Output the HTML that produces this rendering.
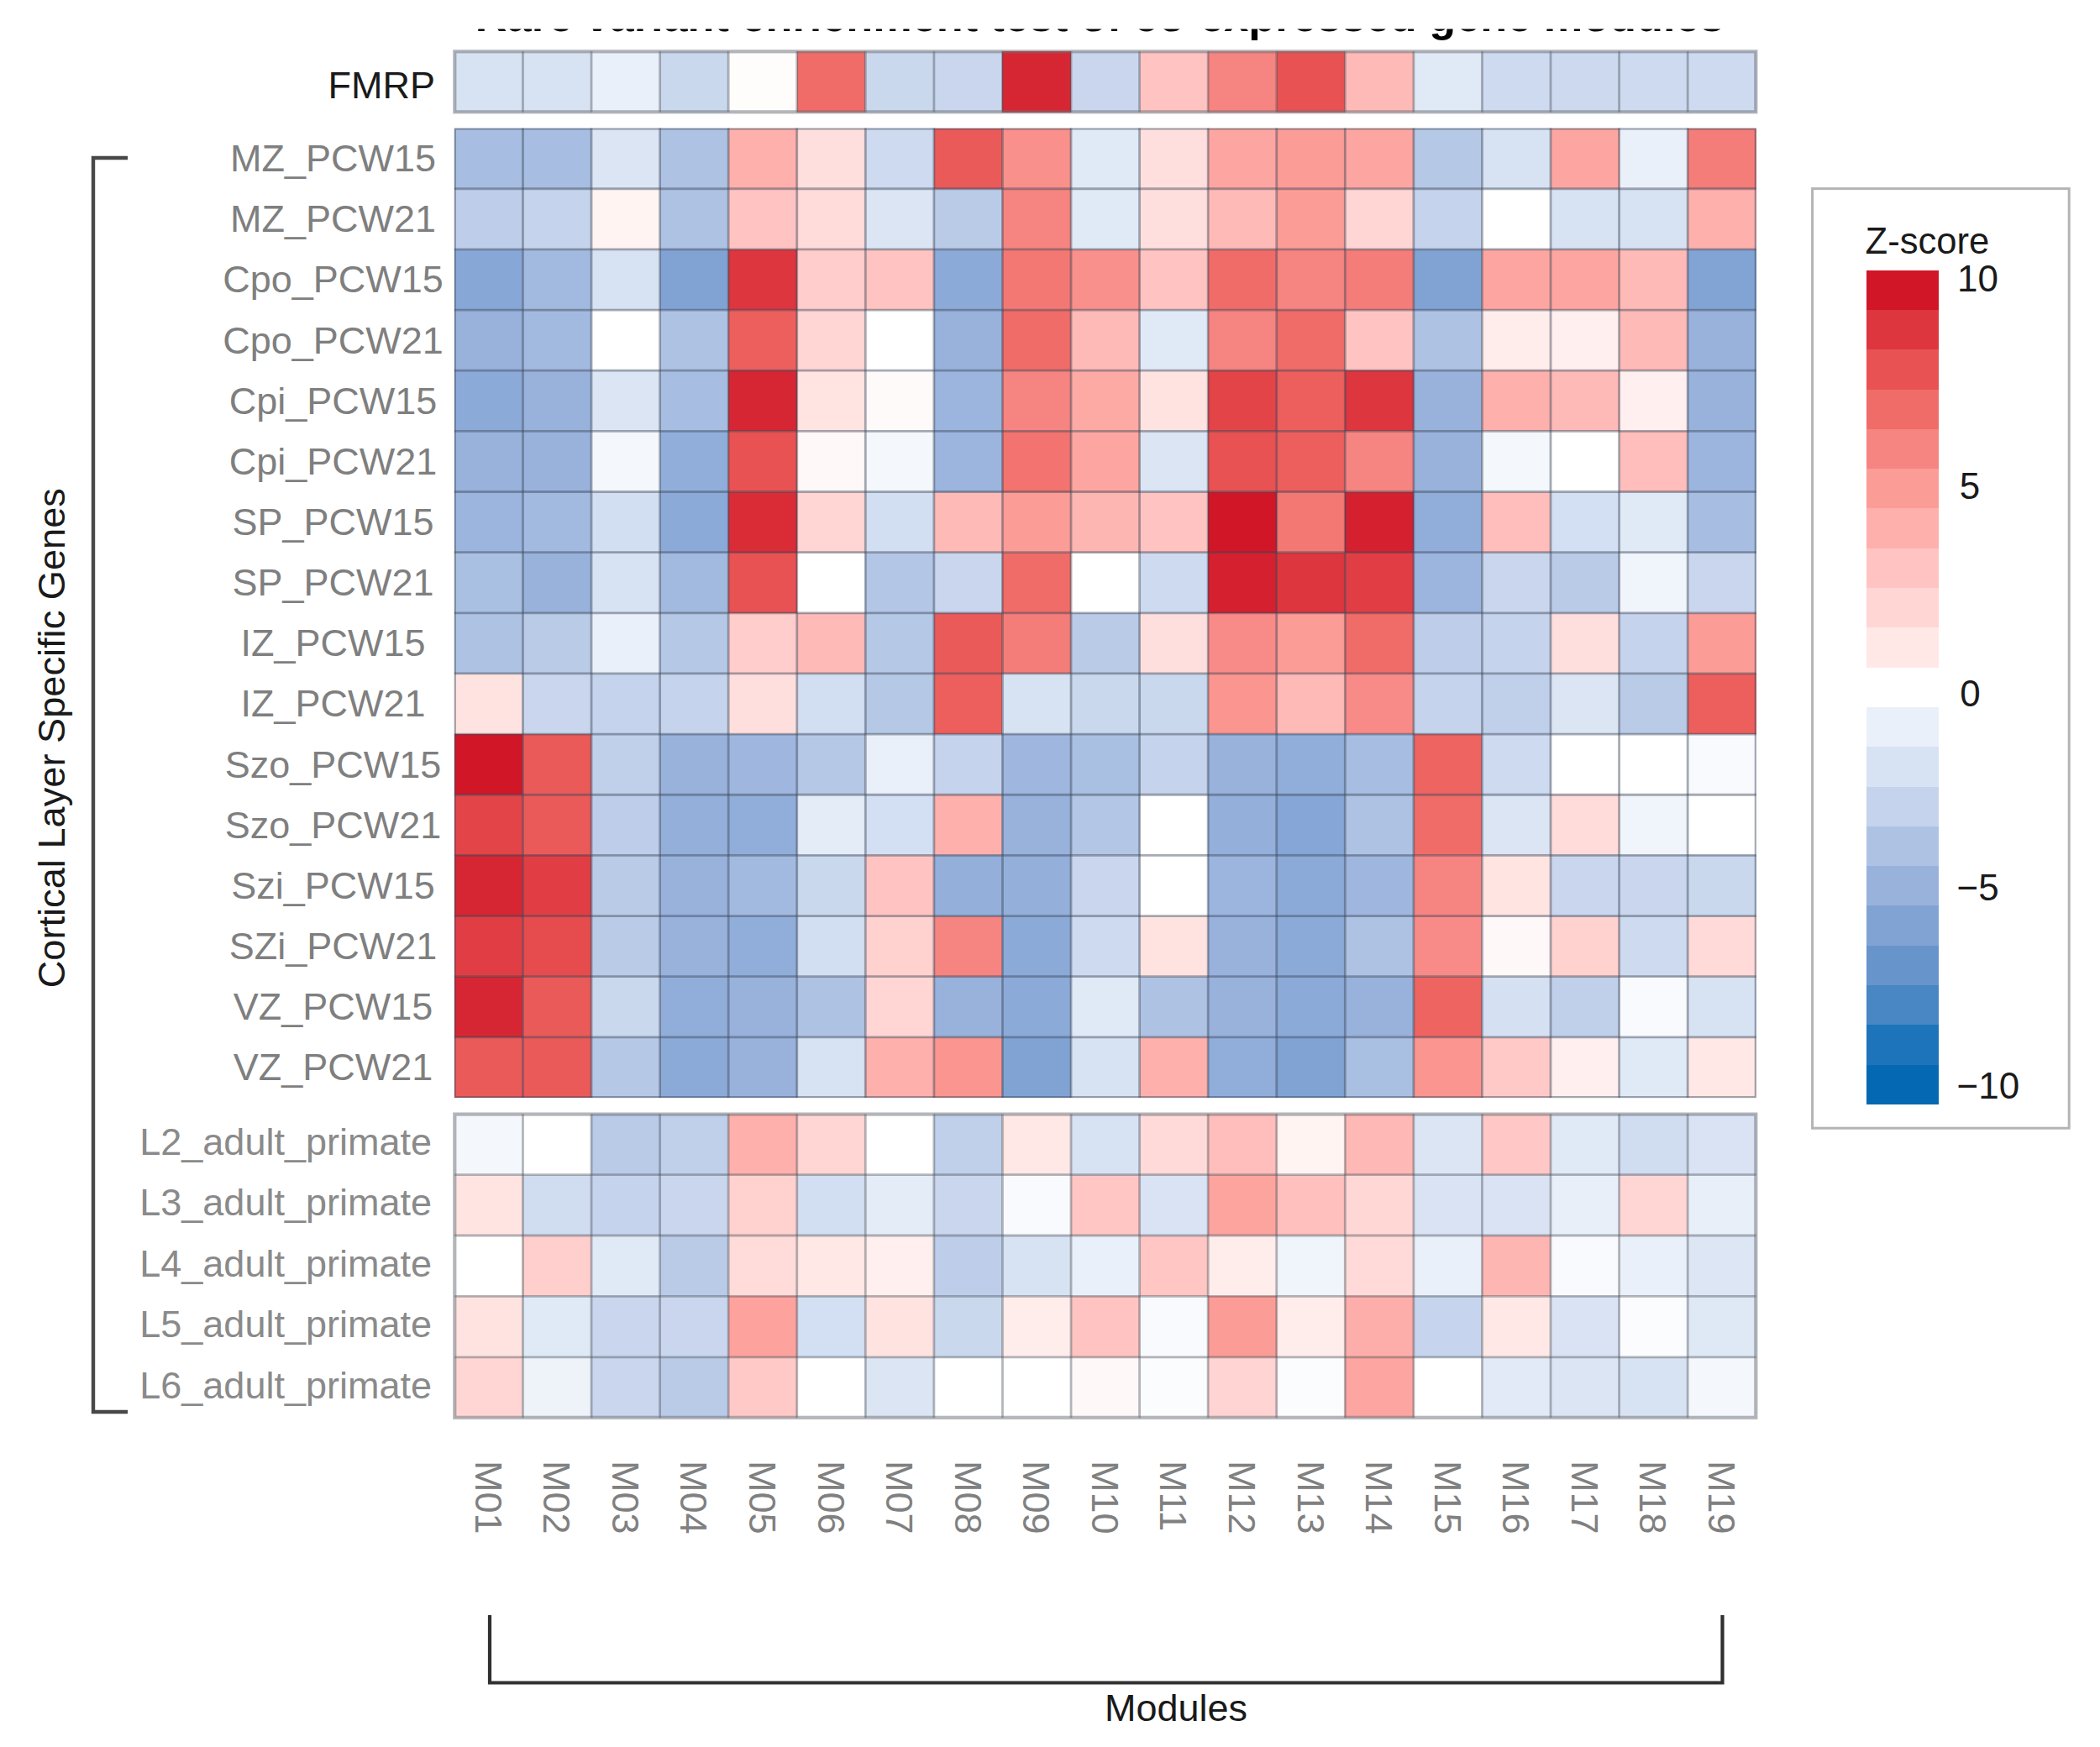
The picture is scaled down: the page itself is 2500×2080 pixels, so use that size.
<!DOCTYPE html>
<html lang="en"><head><meta charset="utf-8"><title>Rare variant enrichment test of co-expressed gene modules</title>
<style>html,body{margin:0;padding:0;background:#fff}body{width:2500px;height:2080px;overflow:hidden;position:relative}svg{display:block;position:absolute;left:0;top:0}text{font-family:"Liberation Sans",sans-serif}</style></head><body>
<svg width="2500" height="2080" viewBox="0 0 2500 2080">
<rect x="0" y="0" width="2500" height="2080" fill="#ffffff"/>
<defs><clipPath id="tc"><rect x="500" y="34.6" width="1700" height="24"/></clipPath></defs>
<g clip-path="url(#tc)"><text x="1309.2" y="37.0" text-anchor="middle" font-size="52.26" font-weight="bold" fill="#000">Rare variant enrichment test of co-expressed gene modules</text></g>
<g shape-rendering="crispEdges">
<rect x="540.90" y="60.90" width="82.07" height="72.80" fill="#d7e2f3"/>
<rect x="622.47" y="60.90" width="82.07" height="72.80" fill="#d7e2f3"/>
<rect x="704.04" y="60.90" width="82.07" height="72.80" fill="#eaf0f9"/>
<rect x="785.61" y="60.90" width="82.07" height="72.80" fill="#cad8ee"/>
<rect x="867.18" y="60.90" width="82.07" height="72.80" fill="#fffdfc"/>
<rect x="948.75" y="60.90" width="82.07" height="72.80" fill="#f06c68"/>
<rect x="1030.32" y="60.90" width="82.07" height="72.80" fill="#cad8ee"/>
<rect x="1111.89" y="60.90" width="82.07" height="72.80" fill="#c9d6ed"/>
<rect x="1193.46" y="60.90" width="82.07" height="72.80" fill="#d72633"/>
<rect x="1275.03" y="60.90" width="82.07" height="72.80" fill="#c9d6ed"/>
<rect x="1356.60" y="60.90" width="82.07" height="72.80" fill="#ffc4c2"/>
<rect x="1438.17" y="60.90" width="82.07" height="72.80" fill="#f68480"/>
<rect x="1519.74" y="60.90" width="82.07" height="72.80" fill="#e85252"/>
<rect x="1601.31" y="60.90" width="82.07" height="72.80" fill="#febab7"/>
<rect x="1682.88" y="60.90" width="82.07" height="72.80" fill="#e0e9f6"/>
<rect x="1764.45" y="60.90" width="82.07" height="72.80" fill="#cedaf0"/>
<rect x="1846.02" y="60.90" width="82.07" height="72.80" fill="#ccd9ef"/>
<rect x="1927.59" y="60.90" width="82.07" height="72.80" fill="#cedaf0"/>
<rect x="2009.16" y="60.90" width="81.57" height="72.80" fill="#cedaf0"/>
</g>
<g stroke="rgba(75,80,90,0.42)" stroke-width="2.8" fill="none">
<line x1="622.47" y1="60.90" x2="622.47" y2="133.70"/>
<line x1="704.04" y1="60.90" x2="704.04" y2="133.70"/>
<line x1="785.61" y1="60.90" x2="785.61" y2="133.70"/>
<line x1="867.18" y1="60.90" x2="867.18" y2="133.70"/>
<line x1="948.75" y1="60.90" x2="948.75" y2="133.70"/>
<line x1="1030.32" y1="60.90" x2="1030.32" y2="133.70"/>
<line x1="1111.89" y1="60.90" x2="1111.89" y2="133.70"/>
<line x1="1193.46" y1="60.90" x2="1193.46" y2="133.70"/>
<line x1="1275.03" y1="60.90" x2="1275.03" y2="133.70"/>
<line x1="1356.60" y1="60.90" x2="1356.60" y2="133.70"/>
<line x1="1438.17" y1="60.90" x2="1438.17" y2="133.70"/>
<line x1="1519.74" y1="60.90" x2="1519.74" y2="133.70"/>
<line x1="1601.31" y1="60.90" x2="1601.31" y2="133.70"/>
<line x1="1682.88" y1="60.90" x2="1682.88" y2="133.70"/>
<line x1="1764.45" y1="60.90" x2="1764.45" y2="133.70"/>
<line x1="1846.02" y1="60.90" x2="1846.02" y2="133.70"/>
<line x1="1927.59" y1="60.90" x2="1927.59" y2="133.70"/>
<line x1="2009.16" y1="60.90" x2="2009.16" y2="133.70"/>
</g>
<rect x="541.30" y="61.30" width="1549.03" height="72.00" fill="none" stroke="rgba(105,110,118,0.5)" stroke-width="4.2"/>
<g shape-rendering="crispEdges">
<rect x="540.90" y="152.60" width="82.07" height="72.65" fill="#a7bee2"/>
<rect x="622.47" y="152.60" width="82.07" height="72.65" fill="#a7bee2"/>
<rect x="704.04" y="152.60" width="82.07" height="72.65" fill="#dbe5f4"/>
<rect x="785.61" y="152.60" width="82.07" height="72.65" fill="#aec3e4"/>
<rect x="867.18" y="152.60" width="82.07" height="72.65" fill="#feb0ac"/>
<rect x="948.75" y="152.60" width="82.07" height="72.65" fill="#ffdfdd"/>
<rect x="1030.32" y="152.60" width="82.07" height="72.65" fill="#cedaf0"/>
<rect x="1111.89" y="152.60" width="82.07" height="72.65" fill="#ea5a59"/>
<rect x="1193.46" y="152.60" width="82.07" height="72.65" fill="#f9908b"/>
<rect x="1275.03" y="152.60" width="82.07" height="72.65" fill="#e0e9f6"/>
<rect x="1356.60" y="152.60" width="82.07" height="72.65" fill="#ffdfdd"/>
<rect x="1438.17" y="152.60" width="82.07" height="72.65" fill="#fda6a1"/>
<rect x="1519.74" y="152.60" width="82.07" height="72.65" fill="#fc9c96"/>
<rect x="1601.31" y="152.60" width="82.07" height="72.65" fill="#fda6a1"/>
<rect x="1682.88" y="152.60" width="82.07" height="72.65" fill="#b5c8e6"/>
<rect x="1764.45" y="152.60" width="82.07" height="72.65" fill="#d7e2f3"/>
<rect x="1846.02" y="152.60" width="82.07" height="72.65" fill="#fda6a1"/>
<rect x="1927.59" y="152.60" width="82.07" height="72.65" fill="#eaf0f9"/>
<rect x="2009.16" y="152.60" width="81.57" height="72.65" fill="#f47d79"/>
<rect x="540.90" y="224.75" width="82.07" height="72.65" fill="#beceea"/>
<rect x="622.47" y="224.75" width="82.07" height="72.65" fill="#c5d3ec"/>
<rect x="704.04" y="224.75" width="82.07" height="72.65" fill="#fff4f2"/>
<rect x="785.61" y="224.75" width="82.07" height="72.65" fill="#aec3e4"/>
<rect x="867.18" y="224.75" width="82.07" height="72.65" fill="#ffc4c2"/>
<rect x="948.75" y="224.75" width="82.07" height="72.65" fill="#ffdbd9"/>
<rect x="1030.32" y="224.75" width="82.07" height="72.65" fill="#dbe5f4"/>
<rect x="1111.89" y="224.75" width="82.07" height="72.65" fill="#bacbe8"/>
<rect x="1193.46" y="224.75" width="82.07" height="72.65" fill="#f68480"/>
<rect x="1275.03" y="224.75" width="82.07" height="72.65" fill="#e0e9f6"/>
<rect x="1356.60" y="224.75" width="82.07" height="72.65" fill="#ffdfdd"/>
<rect x="1438.17" y="224.75" width="82.07" height="72.65" fill="#febab7"/>
<rect x="1519.74" y="224.75" width="82.07" height="72.65" fill="#fc9c96"/>
<rect x="1601.31" y="224.75" width="82.07" height="72.65" fill="#ffd6d4"/>
<rect x="1682.88" y="224.75" width="82.07" height="72.65" fill="#c5d3ec"/>
<rect x="1764.45" y="224.75" width="82.07" height="72.65" fill="#ffffff"/>
<rect x="1846.02" y="224.75" width="82.07" height="72.65" fill="#d7e2f3"/>
<rect x="1927.59" y="224.75" width="82.07" height="72.65" fill="#d7e2f3"/>
<rect x="2009.16" y="224.75" width="81.57" height="72.65" fill="#feb0ac"/>
<rect x="540.90" y="296.90" width="82.07" height="72.65" fill="#87a8d6"/>
<rect x="622.47" y="296.90" width="82.07" height="72.65" fill="#a3bae0"/>
<rect x="704.04" y="296.90" width="82.07" height="72.65" fill="#d7e2f3"/>
<rect x="785.61" y="296.90" width="82.07" height="72.65" fill="#80a3d4"/>
<rect x="867.18" y="296.90" width="82.07" height="72.65" fill="#dd363e"/>
<rect x="948.75" y="296.90" width="82.07" height="72.65" fill="#ffcdcb"/>
<rect x="1030.32" y="296.90" width="82.07" height="72.65" fill="#ffc4c2"/>
<rect x="1111.89" y="296.90" width="82.07" height="72.65" fill="#8caad8"/>
<rect x="1193.46" y="296.90" width="82.07" height="72.65" fill="#f37874"/>
<rect x="1275.03" y="296.90" width="82.07" height="72.65" fill="#f9908b"/>
<rect x="1356.60" y="296.90" width="82.07" height="72.65" fill="#ffc4c2"/>
<rect x="1438.17" y="296.90" width="82.07" height="72.65" fill="#f06c68"/>
<rect x="1519.74" y="296.90" width="82.07" height="72.65" fill="#f68480"/>
<rect x="1601.31" y="296.90" width="82.07" height="72.65" fill="#f47d79"/>
<rect x="1682.88" y="296.90" width="82.07" height="72.65" fill="#80a3d4"/>
<rect x="1764.45" y="296.90" width="82.07" height="72.65" fill="#fda6a1"/>
<rect x="1846.02" y="296.90" width="82.07" height="72.65" fill="#fda6a1"/>
<rect x="1927.59" y="296.90" width="82.07" height="72.65" fill="#febab7"/>
<rect x="2009.16" y="296.90" width="81.57" height="72.65" fill="#82a4d5"/>
<rect x="540.90" y="369.05" width="82.07" height="72.65" fill="#98b2dc"/>
<rect x="622.47" y="369.05" width="82.07" height="72.65" fill="#a3bae0"/>
<rect x="704.04" y="369.05" width="82.07" height="72.65" fill="#ffffff"/>
<rect x="785.61" y="369.05" width="82.07" height="72.65" fill="#aec3e4"/>
<rect x="867.18" y="369.05" width="82.07" height="72.65" fill="#ec5f5d"/>
<rect x="948.75" y="369.05" width="82.07" height="72.65" fill="#ffd6d4"/>
<rect x="1030.32" y="369.05" width="82.07" height="72.65" fill="#ffffff"/>
<rect x="1111.89" y="369.05" width="82.07" height="72.65" fill="#98b2dc"/>
<rect x="1193.46" y="369.05" width="82.07" height="72.65" fill="#f06c68"/>
<rect x="1275.03" y="369.05" width="82.07" height="72.65" fill="#febab7"/>
<rect x="1356.60" y="369.05" width="82.07" height="72.65" fill="#e0e9f6"/>
<rect x="1438.17" y="369.05" width="82.07" height="72.65" fill="#f68480"/>
<rect x="1519.74" y="369.05" width="82.07" height="72.65" fill="#f06c68"/>
<rect x="1601.31" y="369.05" width="82.07" height="72.65" fill="#ffc4c2"/>
<rect x="1682.88" y="369.05" width="82.07" height="72.65" fill="#aec3e4"/>
<rect x="1764.45" y="369.05" width="82.07" height="72.65" fill="#ffedeb"/>
<rect x="1846.02" y="369.05" width="82.07" height="72.65" fill="#ffefee"/>
<rect x="1927.59" y="369.05" width="82.07" height="72.65" fill="#febab7"/>
<rect x="2009.16" y="369.05" width="81.57" height="72.65" fill="#98b2dc"/>
<rect x="540.90" y="441.20" width="82.07" height="72.65" fill="#8caad8"/>
<rect x="622.47" y="441.20" width="82.07" height="72.65" fill="#98b2dc"/>
<rect x="704.04" y="441.20" width="82.07" height="72.65" fill="#dbe5f4"/>
<rect x="785.61" y="441.20" width="82.07" height="72.65" fill="#a7bee2"/>
<rect x="867.18" y="441.20" width="82.07" height="72.65" fill="#d72633"/>
<rect x="948.75" y="441.20" width="82.07" height="72.65" fill="#ffe4e2"/>
<rect x="1030.32" y="441.20" width="82.07" height="72.65" fill="#fffafa"/>
<rect x="1111.89" y="441.20" width="82.07" height="72.65" fill="#9cb5de"/>
<rect x="1193.46" y="441.20" width="82.07" height="72.65" fill="#f68480"/>
<rect x="1275.03" y="441.20" width="82.07" height="72.65" fill="#fdaaa5"/>
<rect x="1356.60" y="441.20" width="82.07" height="72.65" fill="#ffe3e1"/>
<rect x="1438.17" y="441.20" width="82.07" height="72.65" fill="#e24448"/>
<rect x="1519.74" y="441.20" width="82.07" height="72.65" fill="#ec5f5d"/>
<rect x="1601.31" y="441.20" width="82.07" height="72.65" fill="#dd363e"/>
<rect x="1682.88" y="441.20" width="82.07" height="72.65" fill="#98b2dc"/>
<rect x="1764.45" y="441.20" width="82.07" height="72.65" fill="#feb0ac"/>
<rect x="1846.02" y="441.20" width="82.07" height="72.65" fill="#febab7"/>
<rect x="1927.59" y="441.20" width="82.07" height="72.65" fill="#ffefee"/>
<rect x="2009.16" y="441.20" width="81.57" height="72.65" fill="#98b2dc"/>
<rect x="540.90" y="513.35" width="82.07" height="72.65" fill="#98b2dc"/>
<rect x="622.47" y="513.35" width="82.07" height="72.65" fill="#98b2dc"/>
<rect x="704.04" y="513.35" width="82.07" height="72.65" fill="#f4f8fc"/>
<rect x="785.61" y="513.35" width="82.07" height="72.65" fill="#91aeda"/>
<rect x="867.18" y="513.35" width="82.07" height="72.65" fill="#e85252"/>
<rect x="948.75" y="513.35" width="82.07" height="72.65" fill="#fff8f8"/>
<rect x="1030.32" y="513.35" width="82.07" height="72.65" fill="#f4f8fc"/>
<rect x="1111.89" y="513.35" width="82.07" height="72.65" fill="#9cb5de"/>
<rect x="1193.46" y="513.35" width="82.07" height="72.65" fill="#f2736f"/>
<rect x="1275.03" y="513.35" width="82.07" height="72.65" fill="#fda6a1"/>
<rect x="1356.60" y="513.35" width="82.07" height="72.65" fill="#dbe5f4"/>
<rect x="1438.17" y="513.35" width="82.07" height="72.65" fill="#e85252"/>
<rect x="1519.74" y="513.35" width="82.07" height="72.65" fill="#ec5f5d"/>
<rect x="1601.31" y="513.35" width="82.07" height="72.65" fill="#f68480"/>
<rect x="1682.88" y="513.35" width="82.07" height="72.65" fill="#98b2dc"/>
<rect x="1764.45" y="513.35" width="82.07" height="72.65" fill="#f4f8fc"/>
<rect x="1846.02" y="513.35" width="82.07" height="72.65" fill="#ffffff"/>
<rect x="1927.59" y="513.35" width="82.07" height="72.65" fill="#ffbebb"/>
<rect x="2009.16" y="513.35" width="81.57" height="72.65" fill="#9cb5de"/>
<rect x="540.90" y="585.50" width="82.07" height="72.65" fill="#9cb5de"/>
<rect x="622.47" y="585.50" width="82.07" height="72.65" fill="#a3bae0"/>
<rect x="704.04" y="585.50" width="82.07" height="72.65" fill="#d2def1"/>
<rect x="785.61" y="585.50" width="82.07" height="72.65" fill="#8caad8"/>
<rect x="867.18" y="585.50" width="82.07" height="72.65" fill="#d92c37"/>
<rect x="948.75" y="585.50" width="82.07" height="72.65" fill="#ffd6d4"/>
<rect x="1030.32" y="585.50" width="82.07" height="72.65" fill="#d2def1"/>
<rect x="1111.89" y="585.50" width="82.07" height="72.65" fill="#febab7"/>
<rect x="1193.46" y="585.50" width="82.07" height="72.65" fill="#fc9c96"/>
<rect x="1275.03" y="585.50" width="82.07" height="72.65" fill="#feb6b3"/>
<rect x="1356.60" y="585.50" width="82.07" height="72.65" fill="#ffc4c2"/>
<rect x="1438.17" y="585.50" width="82.07" height="72.65" fill="#d11628"/>
<rect x="1519.74" y="585.50" width="82.07" height="72.65" fill="#f37874"/>
<rect x="1601.31" y="585.50" width="82.07" height="72.65" fill="#d5202f"/>
<rect x="1682.88" y="585.50" width="82.07" height="72.65" fill="#91aeda"/>
<rect x="1764.45" y="585.50" width="82.07" height="72.65" fill="#ffbebb"/>
<rect x="1846.02" y="585.50" width="82.07" height="72.65" fill="#d3dff2"/>
<rect x="1927.59" y="585.50" width="82.07" height="72.65" fill="#e0e9f6"/>
<rect x="2009.16" y="585.50" width="81.57" height="72.65" fill="#a7bee2"/>
<rect x="540.90" y="657.65" width="82.07" height="72.65" fill="#aac0e2"/>
<rect x="622.47" y="657.65" width="82.07" height="72.65" fill="#98b2dc"/>
<rect x="704.04" y="657.65" width="82.07" height="72.65" fill="#d7e2f3"/>
<rect x="785.61" y="657.65" width="82.07" height="72.65" fill="#a3bae0"/>
<rect x="867.18" y="657.65" width="82.07" height="72.65" fill="#e85252"/>
<rect x="948.75" y="657.65" width="82.07" height="72.65" fill="#ffffff"/>
<rect x="1030.32" y="657.65" width="82.07" height="72.65" fill="#b3c6e6"/>
<rect x="1111.89" y="657.65" width="82.07" height="72.65" fill="#c9d6ed"/>
<rect x="1193.46" y="657.65" width="82.07" height="72.65" fill="#f06c68"/>
<rect x="1275.03" y="657.65" width="82.07" height="72.65" fill="#ffffff"/>
<rect x="1356.60" y="657.65" width="82.07" height="72.65" fill="#cedaf0"/>
<rect x="1438.17" y="657.65" width="82.07" height="72.65" fill="#d5202f"/>
<rect x="1519.74" y="657.65" width="82.07" height="72.65" fill="#dd363e"/>
<rect x="1601.31" y="657.65" width="82.07" height="72.65" fill="#e03e44"/>
<rect x="1682.88" y="657.65" width="82.07" height="72.65" fill="#9cb5de"/>
<rect x="1764.45" y="657.65" width="82.07" height="72.65" fill="#c9d6ed"/>
<rect x="1846.02" y="657.65" width="82.07" height="72.65" fill="#bacbe8"/>
<rect x="1927.59" y="657.65" width="82.07" height="72.65" fill="#f0f4fb"/>
<rect x="2009.16" y="657.65" width="81.57" height="72.65" fill="#c9d6ed"/>
<rect x="540.90" y="729.80" width="82.07" height="72.65" fill="#aec3e4"/>
<rect x="622.47" y="729.80" width="82.07" height="72.65" fill="#bacbe8"/>
<rect x="704.04" y="729.80" width="82.07" height="72.65" fill="#eaf0f9"/>
<rect x="785.61" y="729.80" width="82.07" height="72.65" fill="#b5c8e6"/>
<rect x="867.18" y="729.80" width="82.07" height="72.65" fill="#ffcdcb"/>
<rect x="948.75" y="729.80" width="82.07" height="72.65" fill="#febab7"/>
<rect x="1030.32" y="729.80" width="82.07" height="72.65" fill="#b5c8e6"/>
<rect x="1111.89" y="729.80" width="82.07" height="72.65" fill="#ea5a59"/>
<rect x="1193.46" y="729.80" width="82.07" height="72.65" fill="#f47d79"/>
<rect x="1275.03" y="729.80" width="82.07" height="72.65" fill="#bacbe8"/>
<rect x="1356.60" y="729.80" width="82.07" height="72.65" fill="#ffdfdd"/>
<rect x="1438.17" y="729.80" width="82.07" height="72.65" fill="#f88b87"/>
<rect x="1519.74" y="729.80" width="82.07" height="72.65" fill="#fc9c96"/>
<rect x="1601.31" y="729.80" width="82.07" height="72.65" fill="#f06c68"/>
<rect x="1682.88" y="729.80" width="82.07" height="72.65" fill="#beceea"/>
<rect x="1764.45" y="729.80" width="82.07" height="72.65" fill="#c5d3ec"/>
<rect x="1846.02" y="729.80" width="82.07" height="72.65" fill="#ffdfdd"/>
<rect x="1927.59" y="729.80" width="82.07" height="72.65" fill="#c5d3ec"/>
<rect x="2009.16" y="729.80" width="81.57" height="72.65" fill="#fc9c96"/>
<rect x="540.90" y="801.95" width="82.07" height="72.65" fill="#ffe3e1"/>
<rect x="622.47" y="801.95" width="82.07" height="72.65" fill="#c9d6ed"/>
<rect x="704.04" y="801.95" width="82.07" height="72.65" fill="#c5d3ec"/>
<rect x="785.61" y="801.95" width="82.07" height="72.65" fill="#c5d3ec"/>
<rect x="867.18" y="801.95" width="82.07" height="72.65" fill="#ffdfdd"/>
<rect x="948.75" y="801.95" width="82.07" height="72.65" fill="#d2def1"/>
<rect x="1030.32" y="801.95" width="82.07" height="72.65" fill="#b5c8e6"/>
<rect x="1111.89" y="801.95" width="82.07" height="72.65" fill="#ec5f5d"/>
<rect x="1193.46" y="801.95" width="82.07" height="72.65" fill="#d7e2f3"/>
<rect x="1275.03" y="801.95" width="82.07" height="72.65" fill="#cad8ee"/>
<rect x="1356.60" y="801.95" width="82.07" height="72.65" fill="#cad8ee"/>
<rect x="1438.17" y="801.95" width="82.07" height="72.65" fill="#fa958f"/>
<rect x="1519.74" y="801.95" width="82.07" height="72.65" fill="#febab7"/>
<rect x="1601.31" y="801.95" width="82.07" height="72.65" fill="#f88b87"/>
<rect x="1682.88" y="801.95" width="82.07" height="72.65" fill="#c5d3ec"/>
<rect x="1764.45" y="801.95" width="82.07" height="72.65" fill="#c0d0ea"/>
<rect x="1846.02" y="801.95" width="82.07" height="72.65" fill="#dbe5f4"/>
<rect x="1927.59" y="801.95" width="82.07" height="72.65" fill="#bacbe8"/>
<rect x="2009.16" y="801.95" width="81.57" height="72.65" fill="#ec5f5d"/>
<rect x="540.90" y="874.10" width="82.07" height="72.65" fill="#d11628"/>
<rect x="622.47" y="874.10" width="82.07" height="72.65" fill="#ea5a59"/>
<rect x="704.04" y="874.10" width="82.07" height="72.65" fill="#c0d0ea"/>
<rect x="785.61" y="874.10" width="82.07" height="72.65" fill="#98b2dc"/>
<rect x="867.18" y="874.10" width="82.07" height="72.65" fill="#9fb7de"/>
<rect x="948.75" y="874.10" width="82.07" height="72.65" fill="#b5c8e6"/>
<rect x="1030.32" y="874.10" width="82.07" height="72.65" fill="#eaf0f9"/>
<rect x="1111.89" y="874.10" width="82.07" height="72.65" fill="#c5d3ec"/>
<rect x="1193.46" y="874.10" width="82.07" height="72.65" fill="#9fb7de"/>
<rect x="1275.03" y="874.10" width="82.07" height="72.65" fill="#aac0e2"/>
<rect x="1356.60" y="874.10" width="82.07" height="72.65" fill="#c5d3ec"/>
<rect x="1438.17" y="874.10" width="82.07" height="72.65" fill="#98b2dc"/>
<rect x="1519.74" y="874.10" width="82.07" height="72.65" fill="#91aeda"/>
<rect x="1601.31" y="874.10" width="82.07" height="72.65" fill="#a7bee2"/>
<rect x="1682.88" y="874.10" width="82.07" height="72.65" fill="#ee6461"/>
<rect x="1764.45" y="874.10" width="82.07" height="72.65" fill="#cedaf0"/>
<rect x="1846.02" y="874.10" width="82.07" height="72.65" fill="#ffffff"/>
<rect x="1927.59" y="874.10" width="82.07" height="72.65" fill="#ffffff"/>
<rect x="2009.16" y="874.10" width="81.57" height="72.65" fill="#f9fafd"/>
<rect x="540.90" y="946.25" width="82.07" height="72.65" fill="#e24448"/>
<rect x="622.47" y="946.25" width="82.07" height="72.65" fill="#ea5a59"/>
<rect x="704.04" y="946.25" width="82.07" height="72.65" fill="#beceea"/>
<rect x="785.61" y="946.25" width="82.07" height="72.65" fill="#93afda"/>
<rect x="867.18" y="946.25" width="82.07" height="72.65" fill="#91aeda"/>
<rect x="948.75" y="946.25" width="82.07" height="72.65" fill="#e4ecf7"/>
<rect x="1030.32" y="946.25" width="82.07" height="72.65" fill="#d3dff2"/>
<rect x="1111.89" y="946.25" width="82.07" height="72.65" fill="#feb0ac"/>
<rect x="1193.46" y="946.25" width="82.07" height="72.65" fill="#98b2dc"/>
<rect x="1275.03" y="946.25" width="82.07" height="72.65" fill="#b3c6e6"/>
<rect x="1356.60" y="946.25" width="82.07" height="72.65" fill="#ffffff"/>
<rect x="1438.17" y="946.25" width="82.07" height="72.65" fill="#93afda"/>
<rect x="1519.74" y="946.25" width="82.07" height="72.65" fill="#85a6d6"/>
<rect x="1601.31" y="946.25" width="82.07" height="72.65" fill="#aec3e4"/>
<rect x="1682.88" y="946.25" width="82.07" height="72.65" fill="#f06c68"/>
<rect x="1764.45" y="946.25" width="82.07" height="72.65" fill="#dbe5f4"/>
<rect x="1846.02" y="946.25" width="82.07" height="72.65" fill="#ffdbd9"/>
<rect x="1927.59" y="946.25" width="82.07" height="72.65" fill="#f0f4fb"/>
<rect x="2009.16" y="946.25" width="81.57" height="72.65" fill="#ffffff"/>
<rect x="540.90" y="1018.40" width="82.07" height="72.65" fill="#d72633"/>
<rect x="622.47" y="1018.40" width="82.07" height="72.65" fill="#e03e44"/>
<rect x="704.04" y="1018.40" width="82.07" height="72.65" fill="#bacbe8"/>
<rect x="785.61" y="1018.40" width="82.07" height="72.65" fill="#98b2dc"/>
<rect x="867.18" y="1018.40" width="82.07" height="72.65" fill="#a3bae0"/>
<rect x="948.75" y="1018.40" width="82.07" height="72.65" fill="#cad8ee"/>
<rect x="1030.32" y="1018.40" width="82.07" height="72.65" fill="#ffc4c2"/>
<rect x="1111.89" y="1018.40" width="82.07" height="72.65" fill="#93afda"/>
<rect x="1193.46" y="1018.40" width="82.07" height="72.65" fill="#93afda"/>
<rect x="1275.03" y="1018.40" width="82.07" height="72.65" fill="#c9d6ed"/>
<rect x="1356.60" y="1018.40" width="82.07" height="72.65" fill="#ffffff"/>
<rect x="1438.17" y="1018.40" width="82.07" height="72.65" fill="#9cb5de"/>
<rect x="1519.74" y="1018.40" width="82.07" height="72.65" fill="#8caad8"/>
<rect x="1601.31" y="1018.40" width="82.07" height="72.65" fill="#9fb7de"/>
<rect x="1682.88" y="1018.40" width="82.07" height="72.65" fill="#f68480"/>
<rect x="1764.45" y="1018.40" width="82.07" height="72.65" fill="#ffe4e2"/>
<rect x="1846.02" y="1018.40" width="82.07" height="72.65" fill="#c9d6ed"/>
<rect x="1927.59" y="1018.40" width="82.07" height="72.65" fill="#c9d6ed"/>
<rect x="2009.16" y="1018.40" width="81.57" height="72.65" fill="#cad8ee"/>
<rect x="540.90" y="1090.55" width="82.07" height="72.65" fill="#e03e44"/>
<rect x="622.47" y="1090.55" width="82.07" height="72.65" fill="#e64c4e"/>
<rect x="704.04" y="1090.55" width="82.07" height="72.65" fill="#bacbe8"/>
<rect x="785.61" y="1090.55" width="82.07" height="72.65" fill="#98b2dc"/>
<rect x="867.18" y="1090.55" width="82.07" height="72.65" fill="#91aeda"/>
<rect x="948.75" y="1090.55" width="82.07" height="72.65" fill="#d2def1"/>
<rect x="1030.32" y="1090.55" width="82.07" height="72.65" fill="#ffd1cf"/>
<rect x="1111.89" y="1090.55" width="82.07" height="72.65" fill="#f68480"/>
<rect x="1193.46" y="1090.55" width="82.07" height="72.65" fill="#8caad8"/>
<rect x="1275.03" y="1090.55" width="82.07" height="72.65" fill="#cedaf0"/>
<rect x="1356.60" y="1090.55" width="82.07" height="72.65" fill="#ffe3e1"/>
<rect x="1438.17" y="1090.55" width="82.07" height="72.65" fill="#98b2dc"/>
<rect x="1519.74" y="1090.55" width="82.07" height="72.65" fill="#8caad8"/>
<rect x="1601.31" y="1090.55" width="82.07" height="72.65" fill="#aec3e4"/>
<rect x="1682.88" y="1090.55" width="82.07" height="72.65" fill="#f88b87"/>
<rect x="1764.45" y="1090.55" width="82.07" height="72.65" fill="#fff8f8"/>
<rect x="1846.02" y="1090.55" width="82.07" height="72.65" fill="#ffd1cf"/>
<rect x="1927.59" y="1090.55" width="82.07" height="72.65" fill="#cedaf0"/>
<rect x="2009.16" y="1090.55" width="81.57" height="72.65" fill="#ffdad8"/>
<rect x="540.90" y="1162.70" width="82.07" height="72.65" fill="#d72633"/>
<rect x="622.47" y="1162.70" width="82.07" height="72.65" fill="#ea5a59"/>
<rect x="704.04" y="1162.70" width="82.07" height="72.65" fill="#cad8ee"/>
<rect x="785.61" y="1162.70" width="82.07" height="72.65" fill="#91aeda"/>
<rect x="867.18" y="1162.70" width="82.07" height="72.65" fill="#98b2dc"/>
<rect x="948.75" y="1162.70" width="82.07" height="72.65" fill="#aec3e4"/>
<rect x="1030.32" y="1162.70" width="82.07" height="72.65" fill="#ffd6d4"/>
<rect x="1111.89" y="1162.70" width="82.07" height="72.65" fill="#98b2dc"/>
<rect x="1193.46" y="1162.70" width="82.07" height="72.65" fill="#8caad8"/>
<rect x="1275.03" y="1162.70" width="82.07" height="72.65" fill="#e0e9f6"/>
<rect x="1356.60" y="1162.70" width="82.07" height="72.65" fill="#aec3e4"/>
<rect x="1438.17" y="1162.70" width="82.07" height="72.65" fill="#98b2dc"/>
<rect x="1519.74" y="1162.70" width="82.07" height="72.65" fill="#8caad8"/>
<rect x="1601.31" y="1162.70" width="82.07" height="72.65" fill="#98b2dc"/>
<rect x="1682.88" y="1162.70" width="82.07" height="72.65" fill="#ee6461"/>
<rect x="1764.45" y="1162.70" width="82.07" height="72.65" fill="#d5e0f2"/>
<rect x="1846.02" y="1162.70" width="82.07" height="72.65" fill="#c0d0ea"/>
<rect x="1927.59" y="1162.70" width="82.07" height="72.65" fill="#f9fafd"/>
<rect x="2009.16" y="1162.70" width="81.57" height="72.65" fill="#d7e2f3"/>
<rect x="540.90" y="1234.85" width="82.07" height="72.15" fill="#ea5a59"/>
<rect x="622.47" y="1234.85" width="82.07" height="72.15" fill="#ea5a59"/>
<rect x="704.04" y="1234.85" width="82.07" height="72.15" fill="#b5c8e6"/>
<rect x="785.61" y="1234.85" width="82.07" height="72.15" fill="#8caad8"/>
<rect x="867.18" y="1234.85" width="82.07" height="72.15" fill="#98b2dc"/>
<rect x="948.75" y="1234.85" width="82.07" height="72.15" fill="#d7e2f3"/>
<rect x="1030.32" y="1234.85" width="82.07" height="72.15" fill="#feb0ac"/>
<rect x="1111.89" y="1234.85" width="82.07" height="72.15" fill="#fa958f"/>
<rect x="1193.46" y="1234.85" width="82.07" height="72.15" fill="#80a3d4"/>
<rect x="1275.03" y="1234.85" width="82.07" height="72.15" fill="#d7e2f3"/>
<rect x="1356.60" y="1234.85" width="82.07" height="72.15" fill="#feb0ac"/>
<rect x="1438.17" y="1234.85" width="82.07" height="72.15" fill="#91aeda"/>
<rect x="1519.74" y="1234.85" width="82.07" height="72.15" fill="#80a3d4"/>
<rect x="1601.31" y="1234.85" width="82.07" height="72.15" fill="#aac0e2"/>
<rect x="1682.88" y="1234.85" width="82.07" height="72.15" fill="#fa958f"/>
<rect x="1764.45" y="1234.85" width="82.07" height="72.15" fill="#ffc9c7"/>
<rect x="1846.02" y="1234.85" width="82.07" height="72.15" fill="#ffefee"/>
<rect x="1927.59" y="1234.85" width="82.07" height="72.15" fill="#e0e9f6"/>
<rect x="2009.16" y="1234.85" width="81.57" height="72.15" fill="#ffe8e6"/>
</g>
<g stroke="rgba(60,72,90,0.46)" stroke-width="2.8" fill="none">
<line x1="540.90" y1="224.75" x2="2090.73" y2="224.75"/>
<line x1="540.90" y1="296.90" x2="2090.73" y2="296.90"/>
<line x1="540.90" y1="369.05" x2="2090.73" y2="369.05"/>
<line x1="540.90" y1="441.20" x2="2090.73" y2="441.20"/>
<line x1="540.90" y1="513.35" x2="2090.73" y2="513.35"/>
<line x1="540.90" y1="585.50" x2="2090.73" y2="585.50"/>
<line x1="540.90" y1="657.65" x2="2090.73" y2="657.65"/>
<line x1="540.90" y1="729.80" x2="2090.73" y2="729.80"/>
<line x1="540.90" y1="801.95" x2="2090.73" y2="801.95"/>
<line x1="540.90" y1="874.10" x2="2090.73" y2="874.10"/>
<line x1="540.90" y1="946.25" x2="2090.73" y2="946.25"/>
<line x1="540.90" y1="1018.40" x2="2090.73" y2="1018.40"/>
<line x1="540.90" y1="1090.55" x2="2090.73" y2="1090.55"/>
<line x1="540.90" y1="1162.70" x2="2090.73" y2="1162.70"/>
<line x1="540.90" y1="1234.85" x2="2090.73" y2="1234.85"/>
<line x1="622.47" y1="152.60" x2="622.47" y2="1307.00"/>
<line x1="704.04" y1="152.60" x2="704.04" y2="1307.00"/>
<line x1="785.61" y1="152.60" x2="785.61" y2="1307.00"/>
<line x1="867.18" y1="152.60" x2="867.18" y2="1307.00"/>
<line x1="948.75" y1="152.60" x2="948.75" y2="1307.00"/>
<line x1="1030.32" y1="152.60" x2="1030.32" y2="1307.00"/>
<line x1="1111.89" y1="152.60" x2="1111.89" y2="1307.00"/>
<line x1="1193.46" y1="152.60" x2="1193.46" y2="1307.00"/>
<line x1="1275.03" y1="152.60" x2="1275.03" y2="1307.00"/>
<line x1="1356.60" y1="152.60" x2="1356.60" y2="1307.00"/>
<line x1="1438.17" y1="152.60" x2="1438.17" y2="1307.00"/>
<line x1="1519.74" y1="152.60" x2="1519.74" y2="1307.00"/>
<line x1="1601.31" y1="152.60" x2="1601.31" y2="1307.00"/>
<line x1="1682.88" y1="152.60" x2="1682.88" y2="1307.00"/>
<line x1="1764.45" y1="152.60" x2="1764.45" y2="1307.00"/>
<line x1="1846.02" y1="152.60" x2="1846.02" y2="1307.00"/>
<line x1="1927.59" y1="152.60" x2="1927.59" y2="1307.00"/>
<line x1="2009.16" y1="152.60" x2="2009.16" y2="1307.00"/>
</g>
<rect x="541.80" y="153.50" width="1548.03" height="1152.60" fill="none" stroke="rgba(60,72,90,0.46)" stroke-width="2.2"/>
<g shape-rendering="crispEdges">
<rect x="540.90" y="1326.20" width="82.07" height="72.90" fill="#f4f8fc"/>
<rect x="622.47" y="1326.20" width="82.07" height="72.90" fill="#ffffff"/>
<rect x="704.04" y="1326.20" width="82.07" height="72.90" fill="#bacbe8"/>
<rect x="785.61" y="1326.20" width="82.07" height="72.90" fill="#c0d0ea"/>
<rect x="867.18" y="1326.20" width="82.07" height="72.90" fill="#feb0ac"/>
<rect x="948.75" y="1326.20" width="82.07" height="72.90" fill="#ffd6d4"/>
<rect x="1030.32" y="1326.20" width="82.07" height="72.90" fill="#ffffff"/>
<rect x="1111.89" y="1326.20" width="82.07" height="72.90" fill="#c0d0ea"/>
<rect x="1193.46" y="1326.20" width="82.07" height="72.90" fill="#ffe8e6"/>
<rect x="1275.03" y="1326.20" width="82.07" height="72.90" fill="#d7e2f3"/>
<rect x="1356.60" y="1326.20" width="82.07" height="72.90" fill="#ffdad8"/>
<rect x="1438.17" y="1326.20" width="82.07" height="72.90" fill="#ffbebb"/>
<rect x="1519.74" y="1326.20" width="82.07" height="72.90" fill="#fff4f2"/>
<rect x="1601.31" y="1326.20" width="82.07" height="72.90" fill="#feb8b5"/>
<rect x="1682.88" y="1326.20" width="82.07" height="72.90" fill="#dbe5f4"/>
<rect x="1764.45" y="1326.20" width="82.07" height="72.90" fill="#ffc8c6"/>
<rect x="1846.02" y="1326.20" width="82.07" height="72.90" fill="#e0e9f6"/>
<rect x="1927.59" y="1326.20" width="82.07" height="72.90" fill="#d0dcf0"/>
<rect x="2009.16" y="1326.20" width="81.57" height="72.90" fill="#d9e3f4"/>
<rect x="540.90" y="1398.60" width="82.07" height="72.90" fill="#ffe4e2"/>
<rect x="622.47" y="1398.60" width="82.07" height="72.90" fill="#d0dcf0"/>
<rect x="704.04" y="1398.60" width="82.07" height="72.90" fill="#c5d3ec"/>
<rect x="785.61" y="1398.60" width="82.07" height="72.90" fill="#c9d6ed"/>
<rect x="867.18" y="1398.60" width="82.07" height="72.90" fill="#ffd1cf"/>
<rect x="948.75" y="1398.60" width="82.07" height="72.90" fill="#d2def1"/>
<rect x="1030.32" y="1398.60" width="82.07" height="72.90" fill="#e4ecf7"/>
<rect x="1111.89" y="1398.60" width="82.07" height="72.90" fill="#c9d6ed"/>
<rect x="1193.46" y="1398.60" width="82.07" height="72.90" fill="#f9fafd"/>
<rect x="1275.03" y="1398.60" width="82.07" height="72.90" fill="#ffc6c4"/>
<rect x="1356.60" y="1398.60" width="82.07" height="72.90" fill="#d9e3f4"/>
<rect x="1438.17" y="1398.60" width="82.07" height="72.90" fill="#fda49f"/>
<rect x="1519.74" y="1398.60" width="82.07" height="72.90" fill="#ffc0be"/>
<rect x="1601.31" y="1398.60" width="82.07" height="72.90" fill="#ffd8d6"/>
<rect x="1682.88" y="1398.60" width="82.07" height="72.90" fill="#d9e3f4"/>
<rect x="1764.45" y="1398.60" width="82.07" height="72.90" fill="#d9e3f4"/>
<rect x="1846.02" y="1398.60" width="82.07" height="72.90" fill="#e8eff8"/>
<rect x="1927.59" y="1398.60" width="82.07" height="72.90" fill="#ffd6d4"/>
<rect x="2009.16" y="1398.60" width="81.57" height="72.90" fill="#e8eff8"/>
<rect x="540.90" y="1471.00" width="82.07" height="72.90" fill="#ffffff"/>
<rect x="622.47" y="1471.00" width="82.07" height="72.90" fill="#ffcfcd"/>
<rect x="704.04" y="1471.00" width="82.07" height="72.90" fill="#e0e9f6"/>
<rect x="785.61" y="1471.00" width="82.07" height="72.90" fill="#bacbe8"/>
<rect x="867.18" y="1471.00" width="82.07" height="72.90" fill="#ffdbd9"/>
<rect x="948.75" y="1471.00" width="82.07" height="72.90" fill="#ffe8e6"/>
<rect x="1030.32" y="1471.00" width="82.07" height="72.90" fill="#ffefee"/>
<rect x="1111.89" y="1471.00" width="82.07" height="72.90" fill="#beceea"/>
<rect x="1193.46" y="1471.00" width="82.07" height="72.90" fill="#d7e2f3"/>
<rect x="1275.03" y="1471.00" width="82.07" height="72.90" fill="#eaf0f9"/>
<rect x="1356.60" y="1471.00" width="82.07" height="72.90" fill="#ffc6c4"/>
<rect x="1438.17" y="1471.00" width="82.07" height="72.90" fill="#ffedeb"/>
<rect x="1519.74" y="1471.00" width="82.07" height="72.90" fill="#f0f4fb"/>
<rect x="1601.31" y="1471.00" width="82.07" height="72.90" fill="#ffdad8"/>
<rect x="1682.88" y="1471.00" width="82.07" height="72.90" fill="#eaf0f9"/>
<rect x="1764.45" y="1471.00" width="82.07" height="72.90" fill="#feb6b3"/>
<rect x="1846.02" y="1471.00" width="82.07" height="72.90" fill="#f9fafd"/>
<rect x="1927.59" y="1471.00" width="82.07" height="72.90" fill="#eaf0f9"/>
<rect x="2009.16" y="1471.00" width="81.57" height="72.90" fill="#dde6f5"/>
<rect x="540.90" y="1543.40" width="82.07" height="72.90" fill="#ffe3e1"/>
<rect x="622.47" y="1543.40" width="82.07" height="72.90" fill="#e0e9f6"/>
<rect x="704.04" y="1543.40" width="82.07" height="72.90" fill="#c9d6ed"/>
<rect x="785.61" y="1543.40" width="82.07" height="72.90" fill="#c9d6ed"/>
<rect x="867.18" y="1543.40" width="82.07" height="72.90" fill="#fda29d"/>
<rect x="948.75" y="1543.40" width="82.07" height="72.90" fill="#d3dff2"/>
<rect x="1030.32" y="1543.40" width="82.07" height="72.90" fill="#ffe3e1"/>
<rect x="1111.89" y="1543.40" width="82.07" height="72.90" fill="#cad8ee"/>
<rect x="1193.46" y="1543.40" width="82.07" height="72.90" fill="#ffedeb"/>
<rect x="1275.03" y="1543.40" width="82.07" height="72.90" fill="#ffc4c2"/>
<rect x="1356.60" y="1543.40" width="82.07" height="72.90" fill="#f9fafd"/>
<rect x="1438.17" y="1543.40" width="82.07" height="72.90" fill="#fc9c96"/>
<rect x="1519.74" y="1543.40" width="82.07" height="72.90" fill="#ffedeb"/>
<rect x="1601.31" y="1543.40" width="82.07" height="72.90" fill="#feaeaa"/>
<rect x="1682.88" y="1543.40" width="82.07" height="72.90" fill="#c7d4ed"/>
<rect x="1764.45" y="1543.40" width="82.07" height="72.90" fill="#ffe8e6"/>
<rect x="1846.02" y="1543.40" width="82.07" height="72.90" fill="#d9e3f4"/>
<rect x="1927.59" y="1543.40" width="82.07" height="72.90" fill="#fbfcfe"/>
<rect x="2009.16" y="1543.40" width="81.57" height="72.90" fill="#dfe8f5"/>
<rect x="540.90" y="1615.80" width="82.07" height="72.40" fill="#ffd6d4"/>
<rect x="622.47" y="1615.80" width="82.07" height="72.40" fill="#eef3fa"/>
<rect x="704.04" y="1615.80" width="82.07" height="72.40" fill="#c9d6ed"/>
<rect x="785.61" y="1615.80" width="82.07" height="72.40" fill="#bacbe8"/>
<rect x="867.18" y="1615.80" width="82.07" height="72.40" fill="#ffc9c7"/>
<rect x="948.75" y="1615.80" width="82.07" height="72.40" fill="#ffffff"/>
<rect x="1030.32" y="1615.80" width="82.07" height="72.40" fill="#dbe5f4"/>
<rect x="1111.89" y="1615.80" width="82.07" height="72.40" fill="#ffffff"/>
<rect x="1193.46" y="1615.80" width="82.07" height="72.40" fill="#ffffff"/>
<rect x="1275.03" y="1615.80" width="82.07" height="72.40" fill="#fff8f8"/>
<rect x="1356.60" y="1615.80" width="82.07" height="72.40" fill="#fbfcfe"/>
<rect x="1438.17" y="1615.80" width="82.07" height="72.40" fill="#ffd4d2"/>
<rect x="1519.74" y="1615.80" width="82.07" height="72.40" fill="#fbfcfe"/>
<rect x="1601.31" y="1615.80" width="82.07" height="72.40" fill="#fda6a1"/>
<rect x="1682.88" y="1615.80" width="82.07" height="72.40" fill="#ffffff"/>
<rect x="1764.45" y="1615.80" width="82.07" height="72.40" fill="#e2eaf7"/>
<rect x="1846.02" y="1615.80" width="82.07" height="72.40" fill="#dbe5f4"/>
<rect x="1927.59" y="1615.80" width="82.07" height="72.40" fill="#d7e2f3"/>
<rect x="2009.16" y="1615.80" width="81.57" height="72.40" fill="#f4f8fc"/>
</g>
<g stroke="rgba(75,80,90,0.42)" stroke-width="2.8" fill="none">
<line x1="540.90" y1="1398.60" x2="2090.73" y2="1398.60"/>
<line x1="540.90" y1="1471.00" x2="2090.73" y2="1471.00"/>
<line x1="540.90" y1="1543.40" x2="2090.73" y2="1543.40"/>
<line x1="540.90" y1="1615.80" x2="2090.73" y2="1615.80"/>
<line x1="622.47" y1="1326.20" x2="622.47" y2="1688.20"/>
<line x1="704.04" y1="1326.20" x2="704.04" y2="1688.20"/>
<line x1="785.61" y1="1326.20" x2="785.61" y2="1688.20"/>
<line x1="867.18" y1="1326.20" x2="867.18" y2="1688.20"/>
<line x1="948.75" y1="1326.20" x2="948.75" y2="1688.20"/>
<line x1="1030.32" y1="1326.20" x2="1030.32" y2="1688.20"/>
<line x1="1111.89" y1="1326.20" x2="1111.89" y2="1688.20"/>
<line x1="1193.46" y1="1326.20" x2="1193.46" y2="1688.20"/>
<line x1="1275.03" y1="1326.20" x2="1275.03" y2="1688.20"/>
<line x1="1356.60" y1="1326.20" x2="1356.60" y2="1688.20"/>
<line x1="1438.17" y1="1326.20" x2="1438.17" y2="1688.20"/>
<line x1="1519.74" y1="1326.20" x2="1519.74" y2="1688.20"/>
<line x1="1601.31" y1="1326.20" x2="1601.31" y2="1688.20"/>
<line x1="1682.88" y1="1326.20" x2="1682.88" y2="1688.20"/>
<line x1="1764.45" y1="1326.20" x2="1764.45" y2="1688.20"/>
<line x1="1846.02" y1="1326.20" x2="1846.02" y2="1688.20"/>
<line x1="1927.59" y1="1326.20" x2="1927.59" y2="1688.20"/>
<line x1="2009.16" y1="1326.20" x2="2009.16" y2="1688.20"/>
</g>
<rect x="541.30" y="1326.60" width="1549.03" height="361.20" fill="none" stroke="rgba(105,110,118,0.5)" stroke-width="4.2"/>
<text x="518" y="117.3" text-anchor="end" font-size="45" fill="#1a1a1a">FMRP</text>
<text x="396.5" y="204.1" text-anchor="middle" font-size="45" fill="#7f7f7f">MZ_PCW15</text>
<text x="396.5" y="276.2" text-anchor="middle" font-size="45" fill="#7f7f7f">MZ_PCW21</text>
<text x="396.5" y="348.4" text-anchor="middle" font-size="45" fill="#7f7f7f">Cpo_PCW15</text>
<text x="396.5" y="420.5" text-anchor="middle" font-size="45" fill="#7f7f7f">Cpo_PCW21</text>
<text x="396.5" y="492.7" text-anchor="middle" font-size="45" fill="#7f7f7f">Cpi_PCW15</text>
<text x="396.5" y="564.8" text-anchor="middle" font-size="45" fill="#7f7f7f">Cpi_PCW21</text>
<text x="396.5" y="637.0" text-anchor="middle" font-size="45" fill="#7f7f7f">SP_PCW15</text>
<text x="396.5" y="709.1" text-anchor="middle" font-size="45" fill="#7f7f7f">SP_PCW21</text>
<text x="396.5" y="781.3" text-anchor="middle" font-size="45" fill="#7f7f7f">IZ_PCW15</text>
<text x="396.5" y="853.4" text-anchor="middle" font-size="45" fill="#7f7f7f">IZ_PCW21</text>
<text x="396.5" y="925.6" text-anchor="middle" font-size="45" fill="#7f7f7f">Szo_PCW15</text>
<text x="396.5" y="997.7" text-anchor="middle" font-size="45" fill="#7f7f7f">Szo_PCW21</text>
<text x="396.5" y="1069.9" text-anchor="middle" font-size="45" fill="#7f7f7f">Szi_PCW15</text>
<text x="396.5" y="1142.0" text-anchor="middle" font-size="45" fill="#7f7f7f">SZi_PCW21</text>
<text x="396.5" y="1214.2" text-anchor="middle" font-size="45" fill="#7f7f7f">VZ_PCW15</text>
<text x="396.5" y="1286.3" text-anchor="middle" font-size="45" fill="#7f7f7f">VZ_PCW21</text>
<text x="514" y="1375.0" text-anchor="end" font-size="45" fill="#8a8a8a">L2_adult_primate</text>
<text x="514" y="1447.4" text-anchor="end" font-size="45" fill="#8a8a8a">L3_adult_primate</text>
<text x="514" y="1519.8" text-anchor="end" font-size="45" fill="#8a8a8a">L4_adult_primate</text>
<text x="514" y="1592.2" text-anchor="end" font-size="45" fill="#8a8a8a">L5_adult_primate</text>
<text x="514" y="1664.6" text-anchor="end" font-size="45" fill="#8a8a8a">L6_adult_primate</text>
<text transform="translate(565.7,1739) rotate(90)" font-size="45" fill="#808080">M01</text>
<text transform="translate(647.3,1739) rotate(90)" font-size="45" fill="#808080">M02</text>
<text transform="translate(728.8,1739) rotate(90)" font-size="45" fill="#808080">M03</text>
<text transform="translate(810.4,1739) rotate(90)" font-size="45" fill="#808080">M04</text>
<text transform="translate(892.0,1739) rotate(90)" font-size="45" fill="#808080">M05</text>
<text transform="translate(973.5,1739) rotate(90)" font-size="45" fill="#808080">M06</text>
<text transform="translate(1055.1,1739) rotate(90)" font-size="45" fill="#808080">M07</text>
<text transform="translate(1136.7,1739) rotate(90)" font-size="45" fill="#808080">M08</text>
<text transform="translate(1218.2,1739) rotate(90)" font-size="45" fill="#808080">M09</text>
<text transform="translate(1299.8,1739) rotate(90)" font-size="45" fill="#808080">M10</text>
<text transform="translate(1381.4,1739) rotate(90)" font-size="45" fill="#808080">M11</text>
<text transform="translate(1463.0,1739) rotate(90)" font-size="45" fill="#808080">M12</text>
<text transform="translate(1544.5,1739) rotate(90)" font-size="45" fill="#808080">M13</text>
<text transform="translate(1626.1,1739) rotate(90)" font-size="45" fill="#808080">M14</text>
<text transform="translate(1707.7,1739) rotate(90)" font-size="45" fill="#808080">M15</text>
<text transform="translate(1789.2,1739) rotate(90)" font-size="45" fill="#808080">M16</text>
<text transform="translate(1870.8,1739) rotate(90)" font-size="45" fill="#808080">M17</text>
<text transform="translate(1952.4,1739) rotate(90)" font-size="45" fill="#808080">M18</text>
<text transform="translate(2033.9,1739) rotate(90)" font-size="45" fill="#808080">M19</text>
<path d="M152 188 H111 V1681 H152" fill="none" stroke="#484848" stroke-width="4.4"/>
<text transform="translate(76.7,1176.3) rotate(-90)" font-size="45.2" fill="#1a1a1a">Cortical Layer Specific Genes</text>
<path d="M583 1923 V2003.5 H2050.5 V1923" fill="none" stroke="#303030" stroke-width="4.2"/>
<text x="1400" y="2049" text-anchor="middle" font-size="45" fill="#1a1a1a">Modules</text>
<rect x="2157.6" y="224.6" width="305.6" height="1118.6" fill="#fff" stroke="#b4b4b4" stroke-width="3"/>
<text x="2220.5" y="302" font-size="43.6" fill="#1a1a1a">Z-score</text>
<g shape-rendering="crispEdges">
<rect x="2222" y="321.60" width="85.8" height="47.80" fill="#d11628"/>
<rect x="2222" y="368.90" width="85.8" height="47.80" fill="#dd363e"/>
<rect x="2222" y="416.20" width="85.8" height="47.80" fill="#e85252"/>
<rect x="2222" y="463.50" width="85.8" height="47.80" fill="#f06c68"/>
<rect x="2222" y="510.80" width="85.8" height="47.80" fill="#f68480"/>
<rect x="2222" y="558.10" width="85.8" height="47.80" fill="#fc9c96"/>
<rect x="2222" y="605.40" width="85.8" height="47.80" fill="#feb0ac"/>
<rect x="2222" y="652.70" width="85.8" height="47.80" fill="#ffc4c2"/>
<rect x="2222" y="700.00" width="85.8" height="47.80" fill="#ffd6d4"/>
<rect x="2222" y="747.30" width="85.8" height="47.80" fill="#ffe8e6"/>
<rect x="2222" y="794.60" width="85.8" height="47.80" fill="#ffffff"/>
<rect x="2222" y="841.90" width="85.8" height="47.80" fill="#eaf0f9"/>
<rect x="2222" y="889.20" width="85.8" height="47.80" fill="#d7e2f3"/>
<rect x="2222" y="936.50" width="85.8" height="47.80" fill="#c5d3ec"/>
<rect x="2222" y="983.80" width="85.8" height="47.80" fill="#aec3e4"/>
<rect x="2222" y="1031.10" width="85.8" height="47.80" fill="#98b2dc"/>
<rect x="2222" y="1078.40" width="85.8" height="47.80" fill="#80a3d4"/>
<rect x="2222" y="1125.70" width="85.8" height="47.80" fill="#6894cc"/>
<rect x="2222" y="1173.00" width="85.8" height="47.80" fill="#4886c4"/>
<rect x="2222" y="1220.30" width="85.8" height="47.80" fill="#1e74ba"/>
<rect x="2222" y="1267.60" width="85.8" height="47.80" fill="#0568b2"/>
</g>
<text x="2330" y="346.6" font-size="44" fill="#1a1a1a">10</text>
<text x="2332.7" y="594.0" font-size="44" fill="#1a1a1a">5</text>
<text x="2333.2" y="841.0" font-size="44" fill="#1a1a1a">0</text>
<text x="2329.5" y="1072.0" font-size="44" fill="#1a1a1a">−5</text>
<text x="2329.5" y="1308.0" font-size="44" fill="#1a1a1a">−10</text>
</svg></body></html>
